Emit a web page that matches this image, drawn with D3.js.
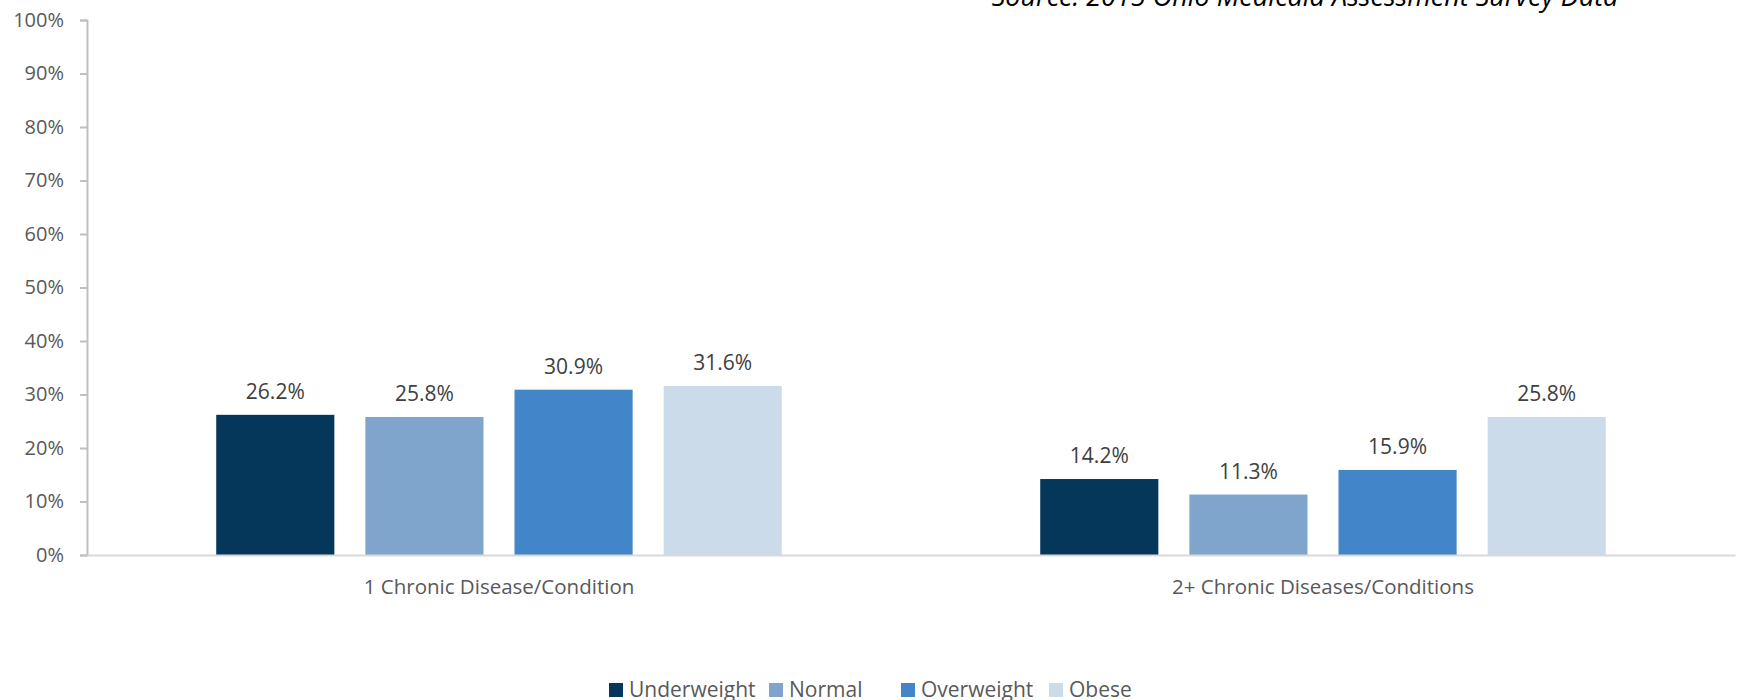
<!DOCTYPE html>
<html>
<head>
<meta charset="utf-8">
<script src="https://cdn.jsdelivr.net/npm/d3@7/dist/d3.min.js"></script>
<style>
  html, body { margin: 0; padding: 0; background: #ffffff; }
  svg { display: block; }
  text { font-family: "Open Sans", "Noto Sans", sans-serif; }
</style>
</head>
<body>
<svg id="chart" width="1739" height="700"></svg>
<script>
const categories = ["1 Chronic Disease/Condition", "2+ Chronic Diseases/Conditions"];
const seriesNames = ["Underweight", "Normal", "Overweight", "Obese"];
const underweight = [26.2, 14.2];
const normal = [25.8, 11.3];
const overweight = [30.9, 15.9];
const obese = [31.6, 25.8];
const seriesColors = ["#05375a", "#7fa5cc", "#4385c9", "#cbdbea"];
const yTicks = [0, 10, 20, 30, 40, 50, 60, 70, 80, 90, 100];
const sourceText = "Source: 2015 Ohio Medicaid Assessment Survey Data";

const seriesValues = [underweight, normal, overweight, obese];
const data = categories.map((c, i) => ({
  category: c,
  values: seriesNames.map((s, j) => ({ series: s, value: seriesValues[j][i] }))
}));

const svg = d3.select("#chart");
const mLeft = 87, mRight = 1735, mTop = 20, mBottom = 555;

const x0 = d3.scaleBand().domain(categories).range([mLeft, mRight]).padding(0);
const groupW = x0.bandwidth() * 0.724;
const x1 = d3.scaleBand().domain(seriesNames)
  .range([-groupW / 2, groupW / 2]).paddingInner(0.208).paddingOuter(0.104);
const y = d3.scaleLinear().domain([0, 100]).range([mBottom, mTop]);
const color = d3.scaleOrdinal().domain(seriesNames).range(seriesColors);

// source text (clipped at top, as in the original)
svg.append("text")
  .attr("x", 1305).attr("y", 6)
  .attr("text-anchor", "middle")
  .attr("font-size", 27)
  .attr("font-style", "italic")
  .attr("fill", "#000")
  .text(sourceText);

// y axis
const yAxis = d3.axisLeft(y).tickValues(yTicks).tickFormat(d => d + "%").tickSize(7).tickPadding(16);
const gy = svg.append("g").attr("transform", `translate(${mLeft},0)`).call(yAxis);
gy.select(".domain").attr("stroke", "#bfbfbf").attr("stroke-width", 2);
gy.selectAll(".tick line").attr("stroke", "#bfbfbf").attr("stroke-width", 2);
gy.selectAll(".tick text").attr("fill", "#595959").attr("font-size", 20)
  .attr("font-family", "'Open Sans', sans-serif");

// bars
const groups = svg.append("g").selectAll("g").data(data).join("g")
  .attr("transform", d => `translate(${x0(d.category) + x0.bandwidth() / 2},0)`);

groups.selectAll("rect").data(d => d.values).join("rect")
  .attr("x", d => x1(d.series))
  .attr("width", x1.bandwidth())
  .attr("y", d => y(d.value))
  .attr("height", d => y(0) - y(d.value))
  .attr("fill", d => color(d.series));

groups.selectAll("text.lbl").data(d => d.values).join("text")
  .attr("class", "lbl")
  .attr("x", d => x1(d.series) + x1.bandwidth() / 2)
  .attr("y", d => y(d.value) - 16)
  .attr("text-anchor", "middle")
  .attr("font-size", 21)
  .attr("fill", "#404040")
  .text(d => d.value.toFixed(1) + "%");

// x axis
const xAxis = d3.axisBottom(x0).tickSize(0).tickPadding(24);
const gx = svg.append("g").attr("transform", `translate(0,${mBottom})`).call(xAxis);
gx.select(".domain").attr("stroke", "#d9d9d9").attr("stroke-width", 2);
gx.selectAll(".tick text").attr("fill", "#595959").attr("font-size", 20.5)
  .attr("font-family", "'Open Sans', sans-serif");

// legend
const legendX = [609, 769, 901, 1049];
const legend = svg.append("g").selectAll("g").data(seriesNames).join("g")
  .attr("transform", (d, i) => `translate(${legendX[i]},683)`);
legend.append("rect").attr("width", 14).attr("height", 14).attr("fill", d => color(d));
legend.append("text").attr("x", 20).attr("y", 14)
  .attr("font-size", 21).attr("fill", "#595959").text(d => d);
</script>
</body>
</html>
